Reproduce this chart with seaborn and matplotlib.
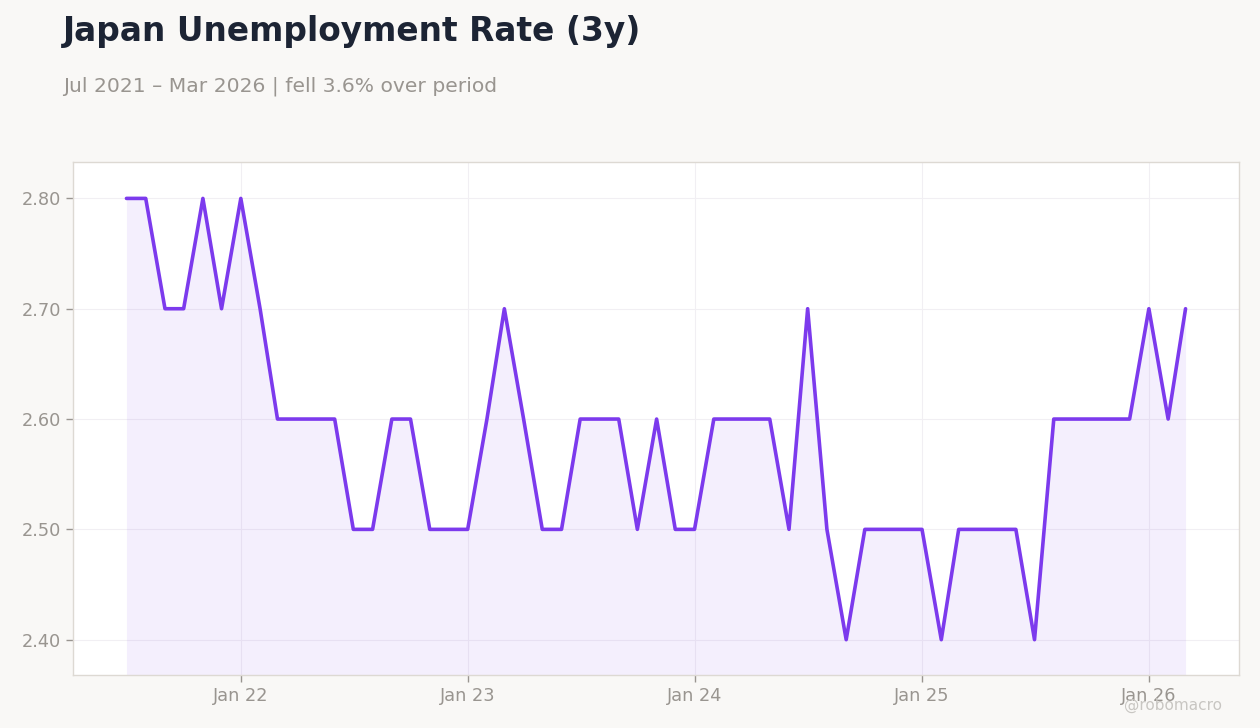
import numpy as np
import pandas as pd
import matplotlib
matplotlib.use("Agg")
import matplotlib.pyplot as plt
import seaborn as sns

# Monthly unemployment rate, Jul 2021 - Mar 2026
months = pd.date_range("2021-07-01", "2026-03-01", freq="MS")
rate = [2.8, 2.8, 2.7, 2.7, 2.8, 2.7,                                # 2021 H2
        2.8, 2.7, 2.6, 2.6, 2.6, 2.6, 2.5, 2.5, 2.6, 2.6, 2.5, 2.5,  # 2022
        2.5, 2.6, 2.7, 2.6, 2.5, 2.5, 2.6, 2.6, 2.6, 2.5, 2.6, 2.5,  # 2023
        2.5, 2.6, 2.6, 2.6, 2.6, 2.5, 2.7, 2.5, 2.4, 2.5, 2.5, 2.5,  # 2024
        2.5, 2.4, 2.5, 2.5, 2.5, 2.5, 2.4, 2.6, 2.6, 2.6, 2.6, 2.6,  # 2025
        2.7, 2.6, 2.7]                                               # 2026
tick_dates = pd.to_datetime(["2022-01-01", "2023-01-01", "2024-01-01", "2025-01-01", "2026-01-01"])
tick_labels = ["Jan 22", "Jan 23", "Jan 24", "Jan 25", "Jan 26"]
y_ticks = [2.4, 2.5, 2.6, 2.7, 2.8]

df = pd.DataFrame({"date": months, "rate": rate})

sns.set_theme(style="whitegrid")
plt.rcParams['font.family'] = ['DejaVu Sans']

line_color = "#7c3aed"
bg = "#f9f8f6"

fig = plt.figure(figsize=(12.6, 7.28), dpi=100, facecolor=bg)
ax = fig.add_axes([73 / 1260, 1 - 675 / 728, (1239 - 73) / 1260, (675 - 162) / 728])
ax.set_facecolor("white")

ymin, ymax = 2.368, 2.833
sns.lineplot(data=df, x="date", y="rate", ax=ax, color=line_color, linewidth=2.6)
ax.fill_between(df["date"], df["rate"], ymin, color=line_color, alpha=0.08, linewidth=0)

ax.set_ylim(ymin, ymax)
ax.set_xlim(pd.Timestamp("2021-04-06"), pd.Timestamp("2026-05-26"))
ax.set_xticks(tick_dates)
ax.set_xticklabels(tick_labels)
ax.set_yticks(y_ticks)
ax.yaxis.set_major_formatter(matplotlib.ticker.FormatStrFormatter("%.2f"))
ax.set_xlabel("")
ax.set_ylabel("")

ax.grid(True, color="#f1eff3", linewidth=0.8)
for s in ax.spines.values():
    s.set_color("#ddd9d3")
    s.set_linewidth(1)
ax.tick_params(axis="both", colors="#999590", labelsize=12.8, length=5, width=1,
               bottom=True, left=True, direction="out")
for lbl in ax.get_xticklabels() + ax.get_yticklabels():
    lbl.set_color("#999590")

fig.text(63 / 1260, 1 - 32 / 728, "Japan Unemployment Rate (3y)", fontsize=23.7, fontweight="bold",
         color="#1c2434", va="center", ha="left")
fig.text(63 / 1260, 1 - 86 / 728, "Jul 2021 \u2013 Mar 2026 | fell 3.6% over period", fontsize=14.6,
         color="#999590", va="center", ha="left")
fig.text(1222 / 1260, 1 - 705 / 728, "@robomacro", fontsize=11, color="#c8c6c2",
         va="center", ha="right")

fig.savefig("out.png", dpi=100, facecolor=bg)
